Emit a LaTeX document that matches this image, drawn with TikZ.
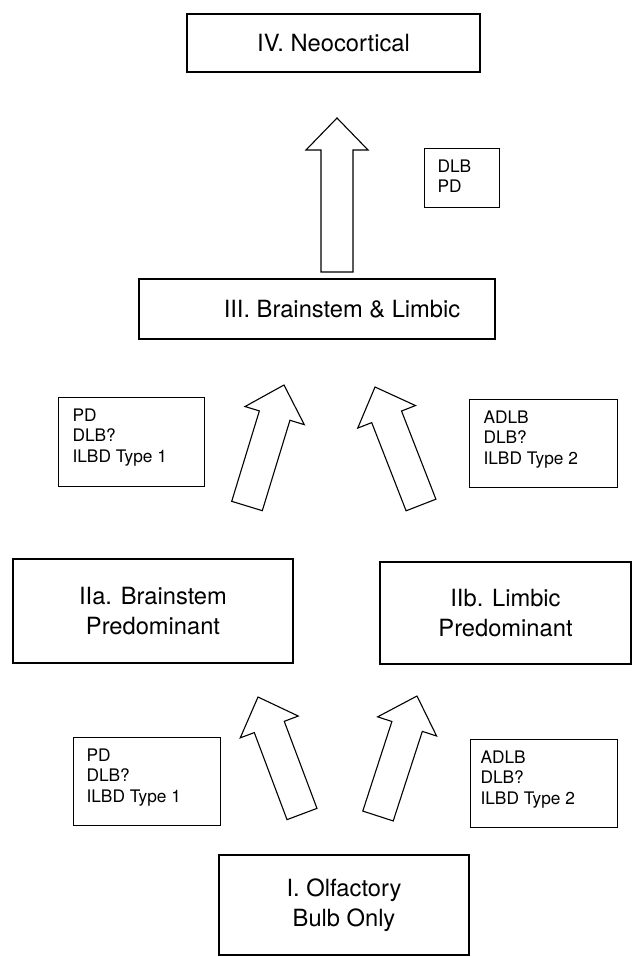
\documentclass[tikz,border=0pt]{standalone}
\usepackage{fontspec}
\setmainfont{TeX Gyre Heros}
\usetikzlibrary{calc}
\newcommand\bigfont{\fontsize{23.7}{30.5}\selectfont}
\newcommand\notefont{\fontsize{17.3}{20.8}\selectfont}
\newcommand\notetxt[4]{\parbox[c][#2][t]{#1}{\leftskip=#3\relax\vspace*{11pt}#4}}
\newcommand\drawblockarrow[1]{%
  \coordinate (#1h) at ($(#1t)!32pt!(#1b)$);
  \draw[arrowline] ($(#1b)!16pt!90:(#1t)$) -- ($(#1h)!16pt!90:(#1t)$) -- ($(#1h)!31pt!90:(#1t)$) -- (#1t) -- ($(#1h)!31pt!-90:(#1t)$) -- ($(#1h)!16pt!-90:(#1t)$) -- ($(#1b)!16pt!-90:(#1t)$) -- cycle;}
\begin{document}
\begin{tikzpicture}[x=1pt,y=-1pt,
  bigbox/.style={draw, line width=1.1pt, font=\bigfont, inner sep=0pt},
  notebox/.style={draw, line width=1.1pt, font=\notefont, inner sep=0pt, anchor=north west},
  arrowline/.style={draw, line width=1.1pt, line join=miter, fill=white}]
\useasboundingbox (0,0) rectangle (634,957);
% main boxes
\node[bigbox, minimum width=293, minimum height=58] (iv) at (333.5,43) {IV. Neocortical};
\node[bigbox, minimum width=356, minimum height=60] (iii) at (317,309) {\hspace*{50pt}III. Brainstem \& Limbic};
\node[bigbox, minimum width=280, minimum height=104, align=center] (iia) at (153,611) {IIa. Brainstem\\Predominant};
\node[bigbox, minimum width=251, minimum height=102, align=center] (iib) at (505.5,613) {IIb. Limbic\\Predominant};
\node[bigbox, minimum width=250, minimum height=100, align=center] (i) at (344,905) {I. Olfactory\\Bulb Only};
% note boxes
\node[notebox] (n4) at (424,148) {\notetxt{75pt}{59pt}{13pt}{DLB\\PD}};
\node[notebox] (n3l) at (58,397) {\notetxt{146pt}{89pt}{14pt}{PD\\DLB?\\ILBD Type 1}};
\node[notebox] (n3r) at (469,399) {\notetxt{148pt}{88pt}{14pt}{ADLB\\DLB?\\ILBD Type 2}};
\node[notebox] (n2l) at (73,737) {\notetxt{147pt}{88pt}{13pt}{PD\\DLB?\\ILBD Type 1}};
\node[notebox] (n2r) at (470,739) {\notetxt{147pt}{88pt}{10pt}{ADLB\\DLB?\\ILBD Type 2}};
% block arrows
\coordinate (atopb) at (337,272); \coordinate (atopt) at (337,118);
\drawblockarrow{atop}
\coordinate (amlb) at (247,506); \coordinate (amlt) at (284,385);
\drawblockarrow{aml}
\coordinate (amrb) at (421,505); \coordinate (amrt) at (375,387);
\drawblockarrow{amr}
\coordinate (ablb) at (302,814); \coordinate (ablt) at (258,697);
\drawblockarrow{abl}
\coordinate (abrb) at (378,816); \coordinate (abrt) at (417,696);
\drawblockarrow{abr}
\end{tikzpicture}
\end{document}
